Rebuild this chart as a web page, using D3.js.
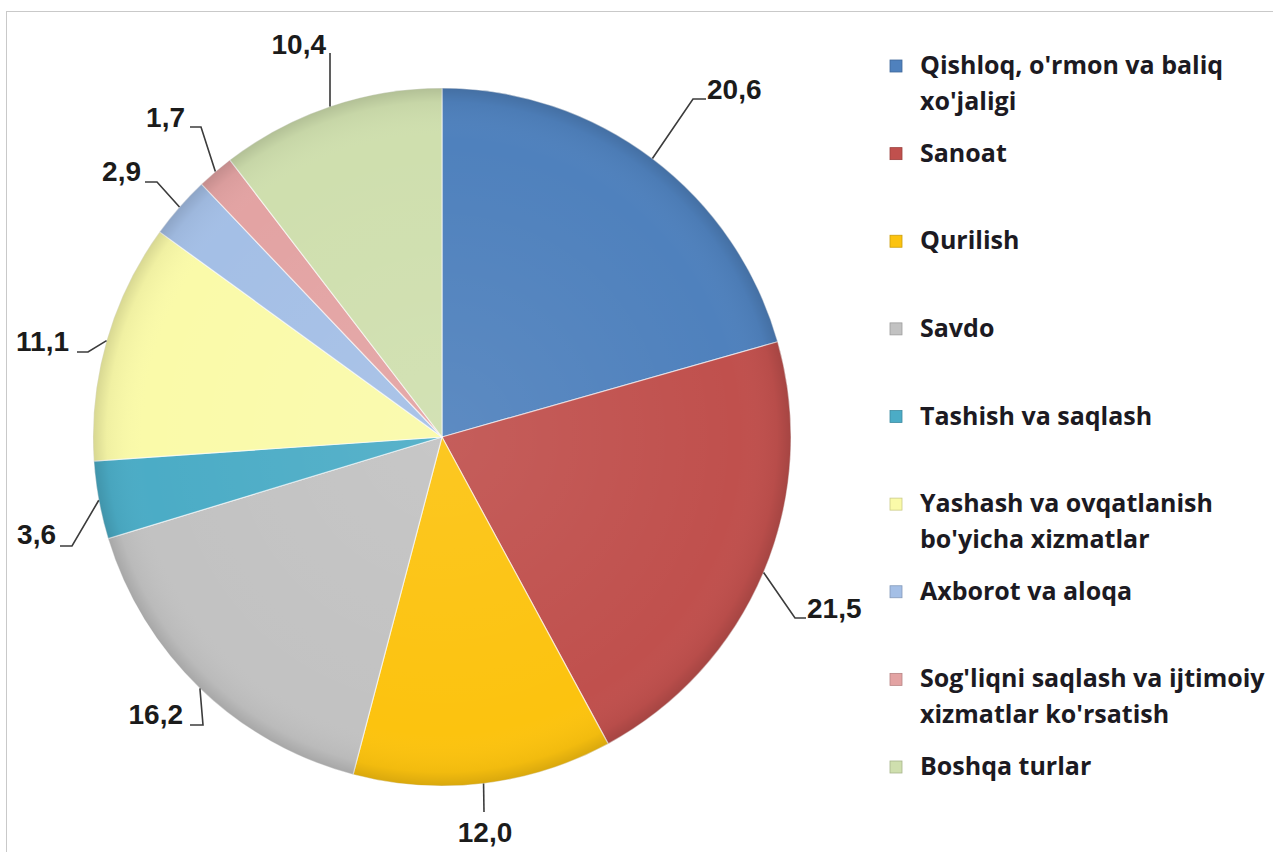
<!DOCTYPE html>
<meta charset="utf-8">
<style>
body { margin: 0; background: #fff; }
.values text { font: bold 28px "Liberation Sans", Arial, sans-serif; fill: #1b1b1b; }
.leaders path { fill: none; stroke: #3c3c3c; stroke-width: 1.6px; }
.legend text { font: bold 25px "Open Sans", sans-serif; fill: #1c1a22; }
</style>
<svg width="1273" height="852"></svg>
<script src="https://d3js.org/d3.v7.min.js"></script>
<script>
var sectors = [
  ["Qishloq, o'rmon va baliq", "xo'jaligi"],
  ["Sanoat"],
  ["Qurilish"],
  ["Savdo"],
  ["Tashish va saqlash"],
  ["Yashash va ovqatlanish", "bo'yicha xizmatlar"],
  ["Axborot va aloqa"],
  ["Sog'liqni saqlash va ijtimoiy", "xizmatlar ko'rsatish"],
  ["Boshqa turlar"]
];
var shares = [20.6, 21.5, 12.0, 16.2, 3.6, 11.1, 2.9, 1.7, 10.4];
var shareLabels = ["20,6", "21,5", "12,0", "16,2", "3,6", "11,1", "2,9", "1,7", "10,4"];
var colors = ["#4f81bd", "#c0504d", "#fcc30f", "#c2c2c2", "#4bacc6", "#fafaa9", "#a4bfe6", "#e3a3a3", "#cfdfae"];

// hand placed label layout (Excel style): bend point, elbow point, text anchor
var labelLayout = [
  { bend: [693, 99],  elbow: [706, 99],  text: [707, 99],  anchor: "start" },
  { bend: [795, 618], elbow: [806, 618], text: [807, 618], anchor: "start" },
  { bend: [484, 812], elbow: [484, 812], text: [485, 842], anchor: "middle" },
  { bend: [203, 725], elbow: [190, 725], text: [183, 724], anchor: "end" },
  { bend: [72, 546],  elbow: [60, 546],  text: [56, 544],  anchor: "end" },
  { bend: [88, 352],  elbow: [77, 352],  text: [69, 351],  anchor: "end" },
  { bend: [157, 182], elbow: [145, 182], text: [141, 181], anchor: "end" },
  { bend: [201, 127], elbow: [190, 127], text: [185, 127], anchor: "end" },
  { bend: [330, 53],  elbow: [330, 53],  text: [326, 54],  anchor: "end" }
];

var svg = d3.select("svg"),
    cx = 442, cy = 437, radius = 349;

svg.append("rect")
    .attr("x", 6.5).attr("y", 11.5)
    .attr("width", 1400).attr("height", 1000)
    .attr("fill", "#fff").attr("stroke", "#c9c9c9");

var defs = svg.append("defs");
var rim = defs.append("radialGradient").attr("id", "rim")
    .attr("gradientUnits", "userSpaceOnUse")
    .attr("cx", 0).attr("cy", 0).attr("r", radius);
rim.append("stop").attr("offset", "0%").attr("stop-color", "#fff").attr("stop-opacity", 0.08);
rim.append("stop").attr("offset", "85%").attr("stop-color", "#fff").attr("stop-opacity", 0);
rim.append("stop").attr("offset", "96%").attr("stop-color", "#000").attr("stop-opacity", 0.04);
rim.append("stop").attr("offset", "100%").attr("stop-color", "#000").attr("stop-opacity", 0.14);

var pie = d3.pie().sort(null).value(function(d) { return d; });
var arcs = pie(shares);
var arc = d3.arc().innerRadius(0).outerRadius(radius);
var edgeArc = d3.arc().innerRadius(radius).outerRadius(radius);

var g = svg.append("g").attr("transform", "translate(" + cx + "," + cy + ")");

g.append("g").selectAll("path")
    .data(arcs)
  .enter().append("path")
    .attr("d", arc)
    .attr("fill", function(d, i) { return colors[i]; })
    .attr("stroke", "#fff")
    .attr("stroke-opacity", 0.6)
    .attr("stroke-width", 1.2);

// soft rim shading over every slice
g.append("g").selectAll("path")
    .data(arcs)
  .enter().append("path")
    .attr("d", arc)
    .attr("fill", "url(#rim)");

// leader lines
svg.append("g").attr("class", "leaders").selectAll("path")
    .data(arcs)
  .enter().append("path")
    .attr("d", function(d, i) {
      var p = edgeArc.centroid(d), L = labelLayout[i];
      return d3.line()([[p[0] + cx, p[1] + cy], L.bend, L.elbow]);
    });

svg.append("g").attr("class", "values").selectAll("text")
    .data(arcs)
  .enter().append("text")
    .attr("x", function(d, i) { return labelLayout[i].text[0]; })
    .attr("y", function(d, i) { return labelLayout[i].text[1]; })
    .attr("text-anchor", function(d, i) { return labelLayout[i].anchor; })
    .text(function(d, i) { return shareLabels[i]; });

// legend
var legendY = d3.scaleLinear().domain([0, sectors.length - 1]).range([66, 767]);
var legend = svg.append("g").attr("class", "legend").selectAll("g")
    .data(sectors)
  .enter().append("g")
    .attr("transform", function(d, i) { return "translate(890," + legendY(i) + ")"; });

legend.append("rect")
    .attr("x", 0).attr("y", -6)
    .attr("width", 12).attr("height", 12)
    .attr("fill", function(d, i) { return colors[i]; })
    .attr("stroke", function(d, i) { return d3.color(colors[i]).darker(0.6); })
    .attr("stroke-width", 0.8);

legend.append("text")
    .attr("x", 30)
    .attr("y", 8)
    .selectAll("tspan")
    .data(function(d) { return d; })
  .enter().append("tspan")
    .attr("x", 30)
    .attr("dy", function(d, j) { return j ? 36 : 0; })
    .text(function(d) { return d; });
</script>
